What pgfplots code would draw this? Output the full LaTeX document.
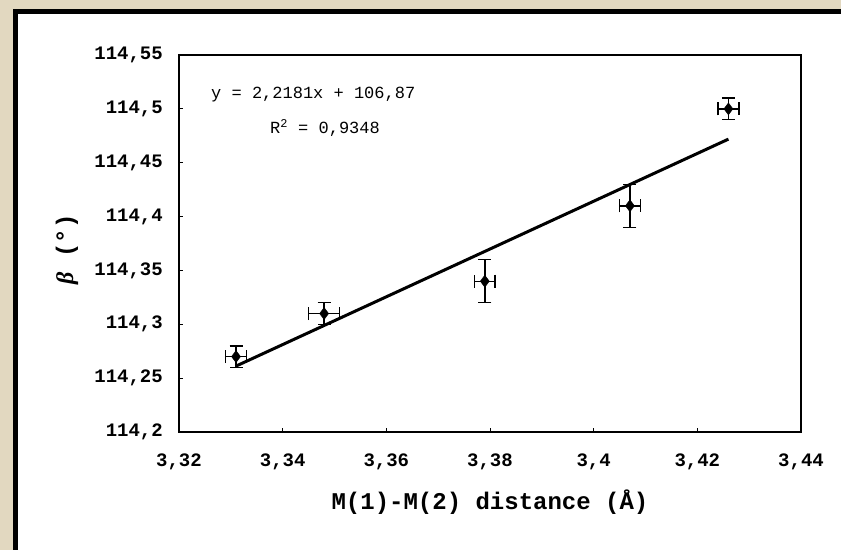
\documentclass[border=0pt]{standalone}
\usepackage{pgfplots}
\pgfplotsset{compat=1.18}
\usepackage{fontspec}
\setmainfont{Liberation Mono}
\newfontfamily\greekfont{Liberation Serif}

\definecolor{parch}{RGB}{226,216,192}

\begin{document}
\begin{tikzpicture}[x=1pt,y=1pt]
\useasboundingbox (0,0) rectangle (841,550);
% paper background and framed white panel
\fill[parch] (0,0) rectangle (841,550);
\fill[black] (13,0) rectangle (841,541);
\fill[white] (18,0) rectangle (841,536);

\begin{axis}[
  at={(179pt,118pt)}, anchor=south west,
  scale only axis, width=622pt, height=377pt,
  xmin=3.32, xmax=3.44, ymin=114.2, ymax=114.55,
  xtick={3.32,3.34,3.36,3.38,3.40,3.42,3.44},
  xticklabels={{3,32},{3,34},{3,36},{3,38},{3,4},{3,42},{3,44}},
  ytick={114.2,114.25,114.3,114.35,114.4,114.45,114.5,114.55},
  yticklabels={{114,2},{114,25},{114,3},{114,35},{114,4},{114,45},{114,5},{114,55}},
  tick pos=left, tick align=inside, major tick length=4pt,
  axis line style={line width=1.8pt},
  every tick/.style={black, line width=1pt},
  ticklabel style={font=\bfseries\fontsize{19}{19}\selectfont},
  xticklabel style={anchor=north, inner sep=0pt, yshift=-22pt},
  yticklabel style={anchor=east, inner sep=0pt, xshift=-16pt},
  xlabel={M(1)-M(2) distance (Å)},
  ylabel={{\greekfont\bfseries\itshape β} (°)},
  label style={font=\bfseries\fontsize{24}{24}\selectfont},
  xlabel style={at={(rel axis cs:0.5,0)}, anchor=base, inner sep=0pt, yshift=-77pt},
  ylabel style={at={(axis description cs:-0.18,0.485)}, anchor=center, inner sep=0pt},
  clip=false,
]
% linear fit y = 2,2181x + 106,87
\addplot[black, line width=3pt, no marks] coordinates {(3.331,114.2612) (3.426,114.4719)};

% measured points with errors in both directions
\addplot[only marks, mark=diamond*, mark size=6pt, black,
  error bars/.cd, x dir=both, x explicit, y dir=both, y explicit,
  error bar style={line width=1.4pt},
  error mark options={mark size=6.5pt, line width=1.4pt, rotate=90}]
  table[x=x, y=y, x error=ex, y error=ey] {
  x      y       ex     ey
  3.331  114.27  0.002  0.01
  3.348  114.31  0.003  0.01
  3.379  114.34  0.002  0.02
  3.407  114.41  0.002  0.02
  3.426  114.50  0.002  0.01
};
\end{axis}

\node[anchor=base west, inner sep=0pt, font=\fontsize{17}{17}\selectfont] at (211,451) {y = 2,2181x + 106,87};
\node[anchor=base west, inner sep=0pt, font=\fontsize{17}{17}\selectfont] at (270,416) {R\textsuperscript{2} = 0,9348};
\end{tikzpicture}
\end{document}
